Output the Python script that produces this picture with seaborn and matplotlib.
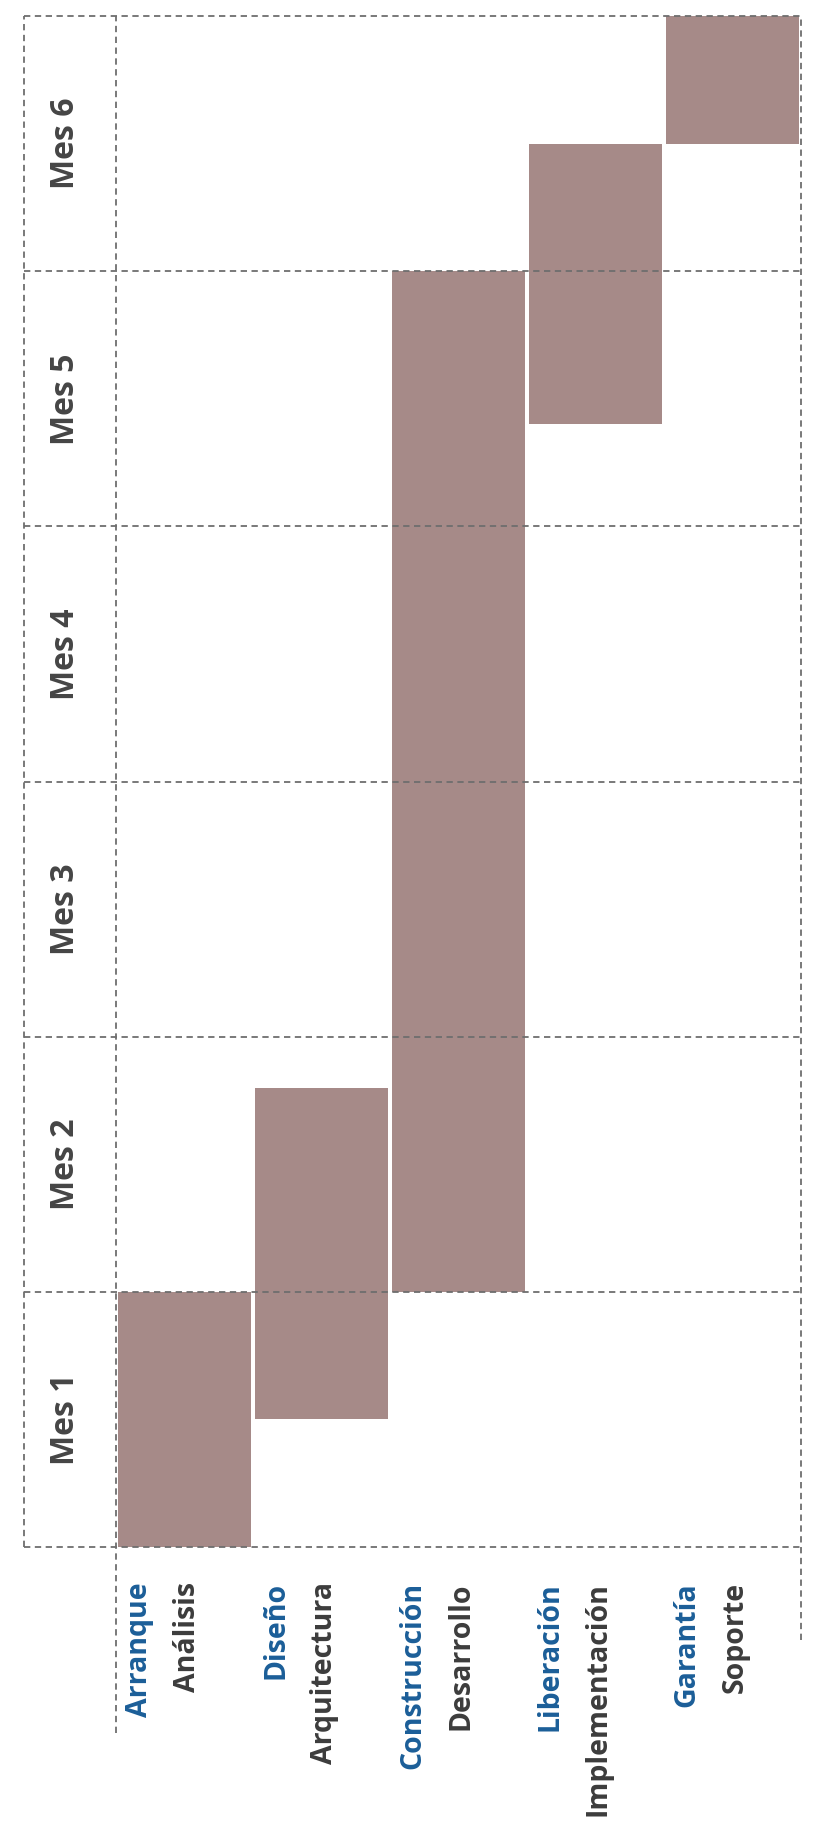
import pandas as pd
import matplotlib.pyplot as plt
import seaborn as sns

# data (months counted from the start of Mes 1)
fases = ["Arranque", "Diseño", "Construcción", "Liberación", "Garantía"]
actividades = ["Análisis", "Arquitectura", "Desarrollo", "Implementación", "Soporte"]
inicio = [0.0, 0.5, 1.0, 4.4, 5.5]
fin = [1.0, 1.8, 5.0, 5.5, 6.0]
meses = ["Mes 1", "Mes 2", "Mes 3", "Mes 4", "Mes 5", "Mes 6"]

df = pd.DataFrame({"fase": fases, "actividad": actividades, "inicio": inicio, "fin": fin})
df["duracion"] = df["fin"] - df["inicio"]

sns.set_theme(style="white")
plt.rcParams["font.family"] = ["Open Sans", "DejaVu Sans"]

bar_color = "#a68a88"
blue = "#1b5e98"
gray_txt = "#3c3c3c"
line_color = "#6e6e6e"

fig = plt.figure(figsize=(8.17, 18.41), dpi=100)
ax = fig.add_axes([0, 0, 1, 1])

sns.barplot(data=df, x="fase", y="duracion", order=fases, bottom=df["inicio"].values,
            color=bar_color, saturation=1, width=0.965, linewidth=0,
            errorbar=None, ax=ax, zorder=2)

ax.set_xlim(-1.347, 4.617)
ax.set_ylim(-1.152, 6.063)
ax.set_axis_off()

left_edge = -1.172
head_edge = -0.5
right_edge = 4.5
n = len(meses)
dash = dict(color=line_color, lw=1.3, ls=(0, (3.5, 2.5)), zorder=3, clip_on=False)

# month boundaries
for i in range(n + 1):
    ax.plot([left_edge, right_edge], [i, i], **dash)
# vertical borders
ax.plot([left_edge, left_edge], [0, n], **dash)
ax.plot([head_edge, head_edge], [-0.73, n], **dash)
ax.plot([right_edge, right_edge], [-0.365, n], **dash)

# month labels in the header column
for i, m in enumerate(meses):
    ax.text((left_edge + head_edge) / 2 - 0.03, i + 0.5, m, rotation=90, ha="center", va="center",
            fontsize=23, fontweight="bold", color="#454545")

# task labels under the chart
for i, (f, a) in enumerate(zip(fases, actividades)):
    ax.text(i - 0.33, -0.137, f, rotation=90, ha="center", va="top",
            fontsize=20.5, fontweight="bold", color=blue)
    ax.text(i + 0.02, -0.137, a, rotation=90, ha="center", va="top",
            fontsize=20.5, fontweight="bold", color=gray_txt)

plt.savefig("out.png", dpi=100)
